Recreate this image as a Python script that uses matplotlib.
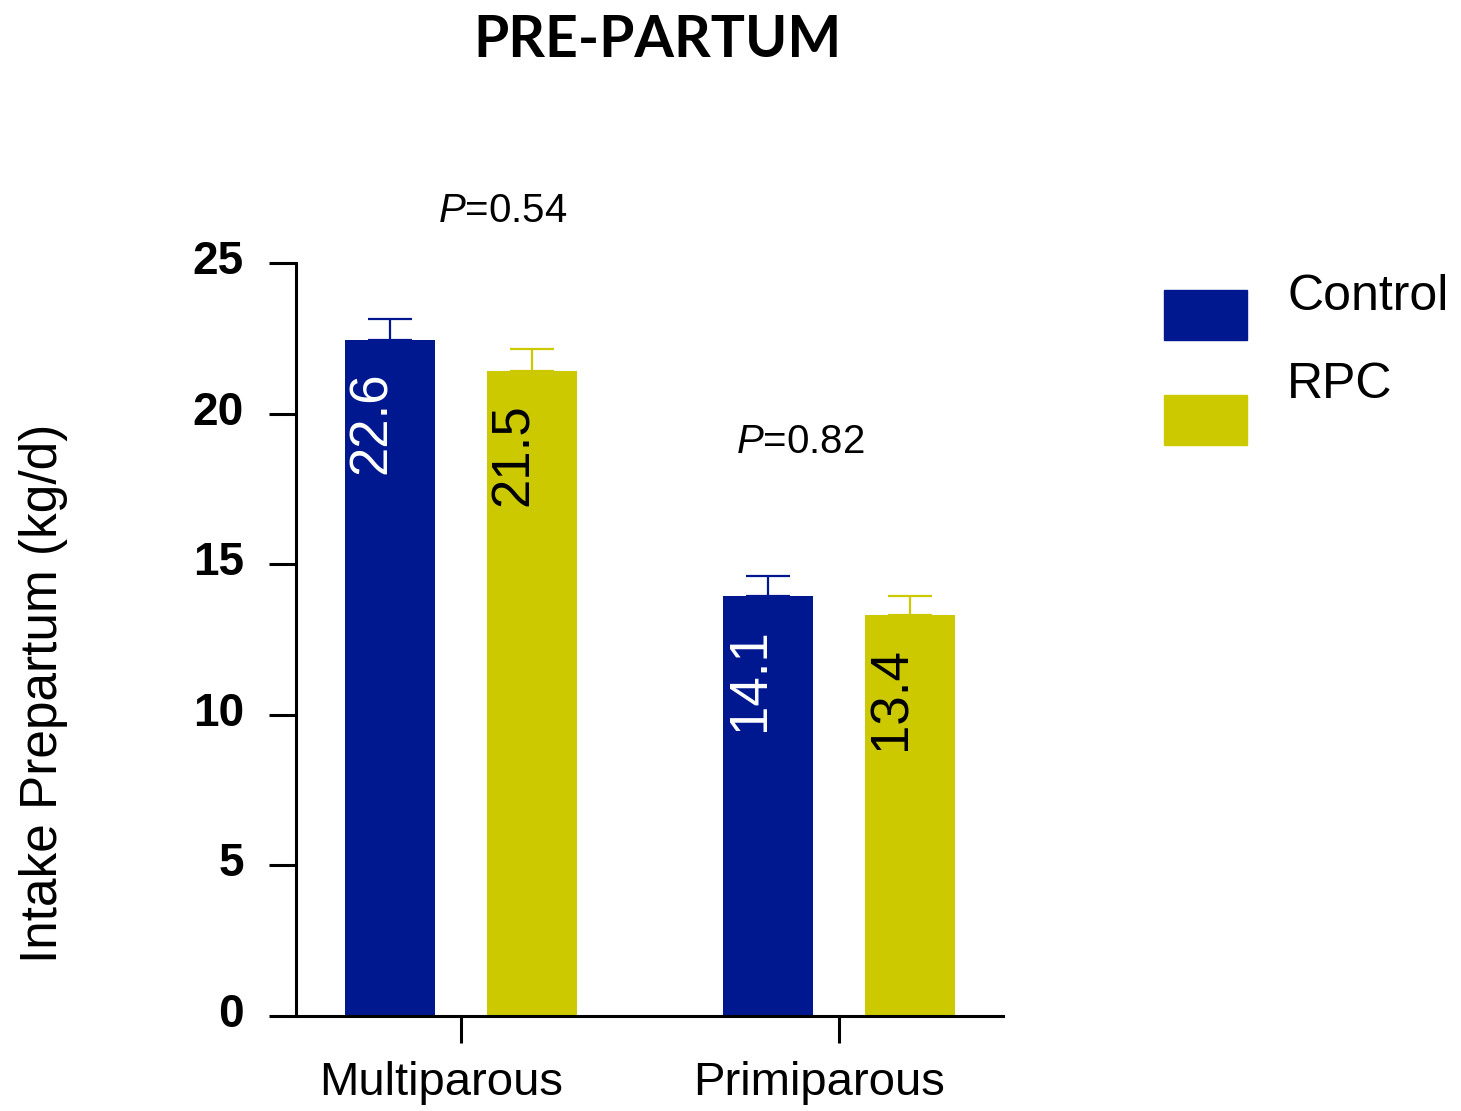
import matplotlib.pyplot as plt
import numpy as np
from matplotlib.patches import Rectangle
from matplotlib.transforms import ScaledTranslation

# data
groups = ['Multiparous', 'Primiparous']
treatments = ['Control', 'RPC']
control_mean = [22.45, 13.95]
rpc_mean = [21.4, 13.3]
control_sem = [0.7, 0.65]
rpc_sem = [0.75, 0.65]
control_labels = ['22.6', '14.1']
rpc_labels = ['21.5', '13.4']
p_values = ['0.54', '0.82']
p_pos = [(0.111, 26.36), (0.899, 18.69)]
y_ticks = [0, 5, 10, 15, 20, 25]

blue = '#00188F'
yellow = '#CCC900'

plt.rcParams['font.family'] = ['Liberation Sans', 'DejaVu Sans']
plt.rcParams['mathtext.fontset'] = 'custom'
plt.rcParams['mathtext.it'] = 'Liberation Sans:italic'
plt.rcParams['mathtext.rm'] = 'Liberation Sans'

fig = plt.figure(figsize=(14.61, 11.11), dpi=100)
ax = fig.add_axes([296/1461, 1-1016/1111, (1003-296)/1461, (1016-263)/1111])

x = np.arange(len(groups))
w = 0.24
off = 0.188

for xs, means, sems, labels, col, tcol in [
        (x - off, control_mean, control_sem, control_labels, blue, 'white'),
        (x + off, rpc_mean, rpc_sem, rpc_labels, yellow, 'black')]:
    ax.bar(xs, means, width=w, color=col, zorder=2)
    ax.errorbar(xs, means, yerr=[np.zeros(len(sems)), sems], fmt='none',
                ecolor=col, elinewidth=1.6, capsize=16, capthick=1.6, zorder=1)
    for xi, m, lab in zip(xs, means, labels):
        ax.annotate(lab, xy=(xi, m), xytext=(-13, -23), textcoords='offset points',
                    rotation=90, ha='center', va='top', fontsize=38, color=tcol)

for (px, py), p in zip(p_pos, p_values):
    ax.text(px, py, r'$\it{P}$=' + p, ha='center', va='baseline',
            fontsize=29, clip_on=False)

ax.set_xlim(-0.4365, 1.434)
ax.set_ylim(0, 25)
ax.set_yticks(y_ticks)
ax.set_yticklabels([str(t) for t in y_ticks], fontsize=33, fontweight='bold')
ax.set_xticks(x)
ax.set_xticklabels(groups, fontsize=34)
ax.tick_params(axis='y', length=19.5, width=2.2, pad=18)
ax.tick_params(axis='x', length=19.5, width=2.2, pad=13)
shift_x = ScaledTranslation(-20/100, 0, fig.dpi_scale_trans)
for lab in ax.get_xticklabels():
    lab.set_transform(lab.get_transform() + shift_x)
shift_y = ScaledTranslation(0, 6/100, fig.dpi_scale_trans)
for lab in ax.get_yticklabels():
    lab.set_transform(lab.get_transform() + shift_y)
for s in ['top', 'right']:
    ax.spines[s].set_visible(False)
for s in ['left', 'bottom']:
    ax.spines[s].set_linewidth(2.2)

ax.set_ylabel('Intake Prepartum (kg/d)', fontsize=37)
ax.yaxis.set_label_coords(-0.3225, 0.429)

fig.text(657/1461, 1-57/1111, 'PRE-PARTUM', ha='center', va='baseline',
         fontsize=41, fontweight='bold', family=['Lato', 'DejaVu Sans'])

# legend drawn by hand
for i, (name, col) in enumerate(zip(treatments, [blue, yellow])):
    y0 = 340 + i*105
    fig.patches.append(Rectangle((1164/1461, 1-y0/1111), 83/1461, 50/1111,
                                 transform=fig.transFigure, color=col))
    fig.text(1287/1461, 1-(310 + i*88)/1111, name, ha='left', va='baseline',
             fontsize=36)

fig.savefig('out.png', dpi=100)
